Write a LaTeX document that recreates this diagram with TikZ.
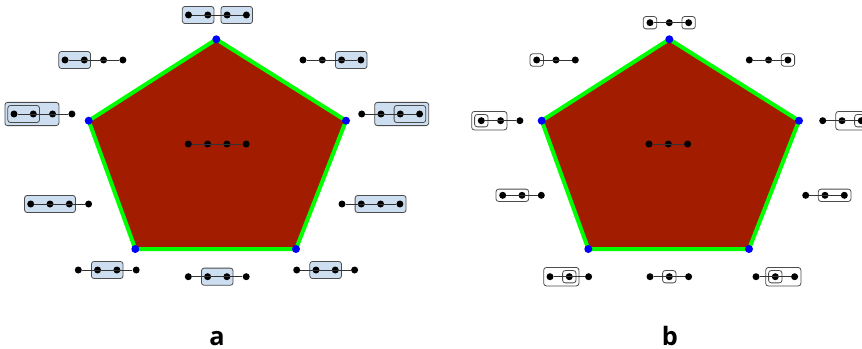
\documentclass[tikz,border=0pt]{standalone}
\usepackage{fontspec}
\newfontfamily\panelfont{Open Sans}
\usetikzlibrary{positioning,calc,fit}
\pgfdeclarelayer{far}
\pgfdeclarelayer{near}
\pgfsetlayers{far,near,main}
\definecolor{facered}{RGB}{162,28,0}
\definecolor{edgegreen}{RGB}{0,255,0}
\definecolor{tubeblue}{RGB}{205,222,240}
\tikzstyle{dot} = [circle,fill=black,inner sep=0pt,minimum size=5.25pt]
\tikzstyle{vert} = [circle,fill=blue,inner sep=0pt,minimum size=6pt]
\tikzstyle{link} = [draw=black!80,line width=0.7pt]
\tikzstyle{face} = [fill=facered,draw=edgegreen,line width=3pt,line join=round]
\tikzstyle{tubea} = [draw=black!70,fill=tubeblue,rounded corners=2pt,line width=0.6pt,inner xsep=1.8pt,inner ysep=3.6pt]
\tikzstyle{tubeb} = [draw=black!70,rounded corners=2pt,line width=0.6pt,inner xsep=2.2pt,inner ysep=1.8pt]
\tikzstyle{wrap} = [inner xsep=1.9pt,inner ysep=2pt]
\tikzstyle{panel} = [font=\panelfont\bfseries\fontsize{19}{22}\selectfont,anchor=base,inner sep=0pt]

% name, x of first dot, y, number of dots
\newcommand{\chain}[4]{%
  \foreach \k in {1,...,#4} {\node[dot] (#1\k) at ({#2+19.3*(\k-1)},#3) {};}
  \draw[link] (#11) \foreach \k in {2,...,#4} { -- (#1\k)};}

\begin{document}
\begin{tikzpicture}[x=0.75pt,y=-0.75pt]
  \useasboundingbox (0,0) rectangle (862,349);

  % panel a
  \path
  coordinate (pa1) at (216.3,39.3)
  coordinate (pa2) at (346,120.7)
  coordinate (pa3) at (296,249)
  coordinate (pa4) at (135.3,249)
  coordinate (pa5) at (88.7,120.7);
  \draw[face] (pa1) -- (pa2) -- (pa3) -- (pa4) -- (pa5) -- cycle;
  \foreach \v in {1,...,5} \node[vert] (va\v) at (pa\v) {};

  \chain{aT}{188.5}{15}{4}
  \chain{aUL}{65}{60}{4}
  \chain{aUR}{303}{60}{4}
  \chain{aL}{14}{114}{4}
  \chain{aR}{361.7}{114}{4}
  \chain{aLL}{30.7}{204}{4}
  \chain{aLR}{342}{204}{4}
  \chain{aBL}{78.3}{270}{4}
  \chain{aBM}{188.3}{276.7}{4}
  \chain{aBR}{296.7}{270}{4}
  \chain{aC}{188.3}{144}{4}

  \begin{pgfonlayer}{near}
    \node[tubea,fit=(aT1)(aT2)] (aTx) {};
    \node[tubea,fit=(aT3)(aT4)] (aTy) {};
    \node[tubea,fit=(aUL1)(aUL2)] (aULx) {};
    \node[tubea,fit=(aUR3)(aUR4)] (aURx) {};
    \node[tubea,fit=(aL1)(aL2)] (aLx) {};
    \node[tubea,fit=(aR3)(aR4)] (aRx) {};
    \node[tubea,fit=(aLL1)(aLL3)] (aLLx) {};
    \node[tubea,fit=(aLR2)(aLR4)] (aLRx) {};
    \node[tubea,fit=(aBL2)(aBL3)] (aBLx) {};
    \node[tubea,fit=(aBM2)(aBM3)] (aBMx) {};
    \node[tubea,fit=(aBR2)(aBR3)] (aBRx) {};
  \end{pgfonlayer}
  \begin{pgfonlayer}{far}
    \node[tubea,wrap,fit=(aLx)(aL3)] (aLy) {};
    \node[tubea,wrap,fit=(aRx)(aR2)] (aRy) {};
  \end{pgfonlayer}

  % panel b
  \path
  coordinate (pb1) at (669.3,39.3)
  coordinate (pb2) at (799,120.7)
  coordinate (pb3) at (749,249)
  coordinate (pb4) at (588.3,249)
  coordinate (pb5) at (541.7,120.7);
  \draw[face] (pb1) -- (pb2) -- (pb3) -- (pb4) -- (pb5) -- cycle;
  \foreach \v in {1,...,5} \node[vert] (vb\v) at (pb\v) {};

  \chain{bT}{650}{22.7}{3}
  \chain{bUL}{536.7}{60}{3}
  \chain{bUR}{749.3}{60}{3}
  \chain{bL}{481.3}{120.7}{3}
  \chain{bR}{822.7}{120.7}{3}
  \chain{bLL}{502.7}{195.3}{3}
  \chain{bLR}{805.7}{195.3}{3}
  \chain{bBL}{550}{276.7}{3}
  \chain{bBM}{650}{276.7}{3}
  \chain{bBR}{756}{276.7}{3}
  \chain{bC}{649}{144}{3}

  \begin{pgfonlayer}{near}
    \node[tubeb,fit=(bT1)] (bTx) {};
    \node[tubeb,fit=(bT3)] (bTy) {};
    \node[tubeb,fit=(bUL1)] (bULx) {};
    \node[tubeb,fit=(bUR3)] (bURx) {};
    \node[tubeb,fit=(bL1)] (bLx) {};
    \node[tubeb,fit=(bR3)] (bRx) {};
    \node[tubeb,fit=(bLL1)(bLL2)] (bLLx) {};
    \node[tubeb,fit=(bLR2)(bLR3)] (bLRx) {};
    \node[tubeb,fit=(bBL2)] (bBLx) {};
    \node[tubeb,fit=(bBM2)] (bBMx) {};
    \node[tubeb,fit=(bBR2)] (bBRx) {};
  \end{pgfonlayer}
  \begin{pgfonlayer}{far}
    \node[tubeb,wrap,fit=(bLx)(bL2)] (bLy) {};
    \node[tubeb,wrap,fit=(bRx)(bR2)] (bRy) {};
    \node[tubeb,wrap,fit=(bBLx)(bBL1)] (bBLy) {};
    \node[tubeb,wrap,fit=(bBRx)(bBR3)] (bBRy) {};
  \end{pgfonlayer}

  \node[panel] (la) at (217,345) {a};
  \node[panel] (lb) at (670,345) {b};
\end{tikzpicture}
\end{document}
